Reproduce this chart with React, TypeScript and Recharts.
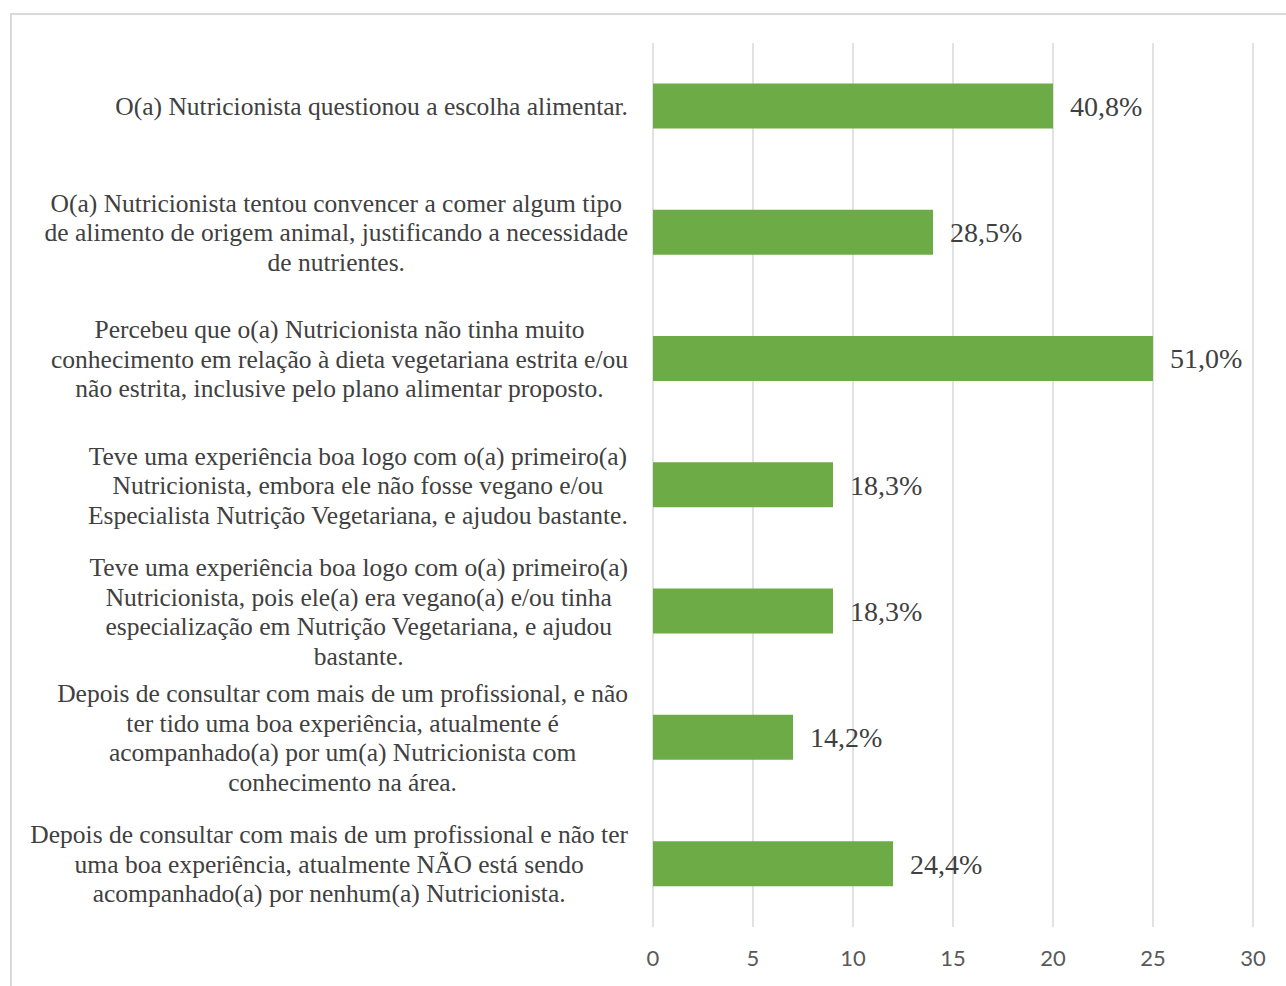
import { BarChart, Bar, XAxis, YAxis, CartesianGrid, LabelList } from "recharts";

const categories = [
  "O(a) Nutricionista questionou a escolha alimentar.",
  "O(a) Nutricionista tentou convencer a comer algum tipo\nde alimento de origem animal, justificando a necessidade\nde nutrientes.",
  "Percebeu que o(a) Nutricionista não tinha muito\nconhecimento em relação à dieta vegetariana estrita e/ou\nnão estrita, inclusive pelo plano alimentar proposto.",
  "Teve uma experiência boa logo com o(a) primeiro(a)\nNutricionista, embora ele não fosse vegano e/ou\nEspecialista Nutrição Vegetariana, e ajudou bastante.",
  "Teve uma experiência boa logo com o(a) primeiro(a)\nNutricionista, pois ele(a) era vegano(a) e/ou tinha\nespecialização em Nutrição Vegetariana, e ajudou\nbastante.",
  "Depois de consultar com mais de um profissional, e não\nter tido uma boa experiência, atualmente é\nacompanhado(a) por um(a) Nutricionista com\nconhecimento na área.",
  "Depois de consultar com mais de um profissional e não ter\numa boa experiência, atualmente NÃO está sendo\nacompanhado(a) por nenhum(a) Nutricionista.",
];
const counts = [20, 14, 25, 9, 9, 7, 12];
const percentLabels = ["40,8%", "28,5%", "51,0%", "18,3%", "18,3%", "14,2%", "24,4%"];
const xTicks = [0, 5, 10, 15, 20, 25, 30];

const data = categories.map((label, i) => ({ label, count: counts[i], pct: percentLabels[i] }));

const serif = "'Liberation Serif', 'DejaVu Serif', serif";
const labelSize = 25.5;
let ctx: CanvasRenderingContext2D | null = null;
function measure(s: string) {
  if (!ctx) ctx = document.createElement("canvas").getContext("2d");
  if (!ctx) return s.length * 10;
  ctx.font = `${labelSize}px ${serif}`;
  return ctx.measureText(s).width;
}

function CategoryTick(props: any) {
  const { x, y, payload } = props;
  const lines: string[] = String(payload.value).split("\n");
  const lineH = 29.5;
  const maxW = Math.max(...lines.map(measure));
  const cx = x - 23 - maxW / 2;
  const top = y - ((lines.length - 1) * lineH) / 2;
  return (
    <text
      textAnchor="middle"
      fill="#404040"
      style={{ fontFamily: serif, fontSize: labelSize }}
      dominantBaseline="central"
    >
      {lines.map((ln, i) => (
        <tspan key={i} x={cx} y={top + i * lineH}>
          {ln}
        </tspan>
      ))}
    </text>
  );
}

export default function App() {
  return (
    <div style={{ position: "absolute", left: 0, top: 0, width: 1286, height: 986, background: "#fff" }}>
      <div
        style={{
          position: "absolute",
          left: 10,
          top: 13,
          width: 1276,
          height: 973,
          borderLeft: "2px solid #d9d9d9",
          borderTop: "2px solid #d9d9d9",
          boxSizing: "border-box",
        }}
      />
      <BarChart
        width={1286}
        height={986}
        data={data}
        layout="vertical"
        margin={{ top: 43, right: 33, bottom: 29, left: 0 }}
        barCategoryGap="32%"
        style={{ position: "absolute", left: 0, top: 0 }}
      >
        <CartesianGrid horizontal={false} stroke="#d9d9d9" strokeWidth={1.5} />
        <XAxis
          type="number"
          domain={[0, 30]}
          ticks={xTicks}
          axisLine={false}
          tickLine={false}
          tickSize={0}
          tickMargin={23}
          height={30}
          tick={{ fill: "#595959", fontSize: 22, fontFamily: "Lato" }}
        />
        <YAxis
          type="category"
          dataKey="label"
          width={653}
          axisLine={false}
          tickLine={false}
          tickSize={0}
          tick={<CategoryTick />}
          interval={0}
        />
        <Bar dataKey="count" fill="#6cab45" isAnimationActive={false}>
          <LabelList
            dataKey="pct"
            position="right"
            offset={17}
            fill="#404040"
            style={{ fontFamily: serif, fontSize: 28 }}
          />
        </Bar>
      </BarChart>
    </div>
  );
}
